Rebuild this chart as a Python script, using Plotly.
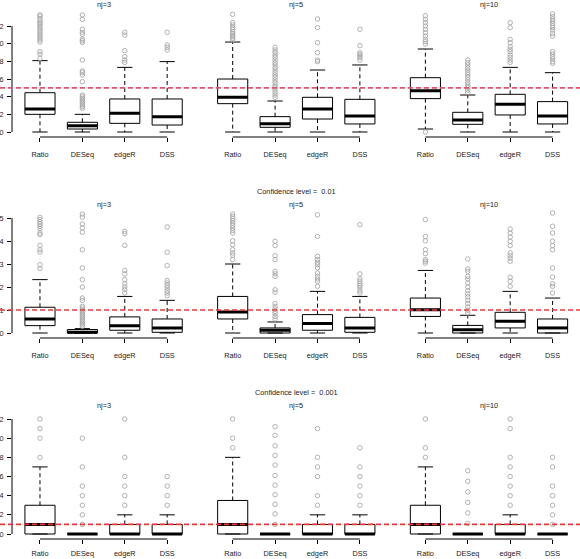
import plotly.graph_objects as go

methods = ["Ratio", "DESeq", "edgeR", "DSS"]
nj_titles = ["nj=3", "nj=5", "nj=10"]
conf_labels = ["0.05", "0.01", "0.001"]
ref_levels = [0.05, 0.01, 0.001]

yticks_05 = [0.00, 0.02, 0.04, 0.06, 0.08, 0.10, 0.12]
yticks_01 = [0.00, 0.01, 0.02, 0.03, 0.04, 0.05]
yticks_001 = [0.000, 0.002, 0.004, 0.006, 0.008, 0.010, 0.012]
yfmt = [".2f", ".2f", ".3f"]

# ---- confidence level 0.05 (per nj, per method) ----
q1_05 = [[0.020, 0.0034, 0.0098, 0.0079], [0.0321, 0.0053, 0.0147, 0.0091], [0.0378, 0.0087, 0.0193, 0.0091]]
med_05 = [[0.026, 0.0072, 0.0211, 0.0174], [0.0393, 0.0094, 0.026, 0.0181], [0.0468, 0.0136, 0.0313, 0.0181]]
q3_05 = [[0.0445, 0.011, 0.0374, 0.0374], [0.060, 0.0174, 0.0393, 0.037], [0.0615, 0.0223, 0.0427, 0.0344]]
lo_05 = [[0, 0, 0, 0], [0, 0, 0, 0], [0.0034, 0, 0, 0]]
hi_05 = [[0.0808, 0.020, 0.0732, 0.0797], [0.1019, 0.0351, 0.0702, 0.0759], [0.094, 0.0419, 0.0732, 0.0672]]
out_05 = [
    [
        [0.1325, 0.1314, 0.1287, 0.1261, 0.1238, 0.1223, 0.120, 0.1178, 0.1155, 0.1133, 0.111, 0.1087, 0.1065, 0.1042, 0.1019, 0.091, 0.0883, 0.0834],
        [0.1325, 0.1276, 0.1163, 0.1129, 0.1106, 0.1053, 0.1034, 0.1015, 0.0815, 0.0691, 0.0672, 0.0646, 0.057, 0.0419, 0.04, 0.0381, 0.0362, 0.0344, 0.0325, 0.0306, 0.0287, 0.0268],
        [0.1129, 0.1098, 0.0921, 0.0853, 0.0815, 0.0789],
        [0.1129, 0.0985, 0.0959, 0.0929],
    ],
    [
        [0.1333, 0.1238, 0.1212, 0.1185, 0.1163, 0.1136, 0.1117, 0.1098, 0.108, 0.1061, 0.1042],
        [0.0959, 0.0929, 0.0902, 0.0872, 0.0846, 0.0815, 0.0785, 0.0759, 0.0729, 0.0702, 0.0672, 0.0646, 0.0619, 0.0589, 0.0562, 0.0532, 0.0506, 0.0476, 0.0449, 0.0419, 0.0393],
        [0.128, 0.1182, 0.1012, 0.0898, 0.0815, 0.0797],
        [0.1163, 0.0978, 0.0898, 0.088, 0.0861, 0.0842, 0.0815],
    ],
    [
        [0.1317, 0.1276, 0.1238, 0.12, 0.1163, 0.1125, 0.1087, 0.1049, 0.1023, 0.0997, 0.0],
        [0.0815, 0.0785, 0.0759, 0.0729, 0.0702, 0.0672, 0.0646, 0.0619, 0.0589, 0.0559, 0.0532, 0.0506, 0.0476, 0.0445],
        [0.1238, 0.1182, 0.1049, 0.1012, 0.0966, 0.0936, 0.091, 0.0872, 0.0846, 0.0815, 0.0789],
        [0.1336, 0.1306, 0.128, 0.1257, 0.1231, 0.1204, 0.1182, 0.1155, 0.1117, 0.1087, 0.091, 0.0883, 0.0853, 0.0827, 0.0797, 0.0778],
    ],
]

# ---- confidence level 0.01 ----
q1_01 = [[0.0032, 0.0, 0.0012, 0.0003], [0.0061, 0.0, 0.0012, 0.0003], [0.0072, 0.0, 0.0022, 0.0]]
med_01 = [[0.0061, 0.0003, 0.0032, 0.0022], [0.0091, 0.0012, 0.0041, 0.0022], [0.0101, 0.0014, 0.0051, 0.0022]]
q3_01 = [[0.0112, 0.0015, 0.007, 0.0061], [0.0159, 0.0022, 0.008, 0.0068], [0.0152, 0.0033, 0.009, 0.0061]]
lo_01 = [[0, 0, 0, 0], [0, 0, 0, 0], [0, 0, 0, 0]]
hi_01 = [[0.0232, 0.0019, 0.0159, 0.0142], [0.030, 0.0048, 0.0181, 0.0159], [0.0272, 0.0077, 0.0181, 0.0152]]
out_01 = [
    [
        [0.0503, 0.0493, 0.0483, 0.0474, 0.0464, 0.0454, 0.0435, 0.0428, 0.0381, 0.0362, 0.0352, 0.0297, 0.028],
        [0.0517, 0.0504, 0.0474, 0.0457, 0.0438, 0.0362, 0.0283, 0.0232, 0.02, 0.0152, 0.0142, 0.0116, 0.0109, 0.0101, 0.0094, 0.0087, 0.008, 0.0072, 0.0065, 0.0058, 0.0051, 0.0043, 0.0036, 0.0029],
        [0.0442, 0.0432, 0.0381, 0.0272, 0.0257, 0.0232, 0.0214, 0.02, 0.0188, 0.0174],
        [0.0461, 0.0351, 0.0293, 0.0228, 0.0217, 0.0206, 0.0196, 0.0184, 0.0174, 0.0162],
    ],
    [
        [0.0517, 0.0507, 0.0497, 0.0488, 0.0478, 0.0468, 0.0457, 0.0446, 0.0435, 0.0401, 0.0384, 0.0362, 0.0348, 0.0338, 0.0319],
        [0.0399, 0.038, 0.0336, 0.0319, 0.0268, 0.0257, 0.0246, 0.0188, 0.0177, 0.0128, 0.0116, 0.0104, 0.0094, 0.0084, 0.0072, 0.0061],
        [0.0514, 0.042, 0.0333, 0.0319, 0.0307, 0.0297, 0.0283, 0.0261, 0.0246, 0.0235, 0.0225, 0.0203],
        [0.0471, 0.0257, 0.0235, 0.0225, 0.0214, 0.0206, 0.0196, 0.0184, 0.0174],
    ],
    [
        [0.0493, 0.042, 0.0401, 0.0362, 0.0345, 0.0319, 0.0312, 0.0304],
        [0.0322, 0.0278, 0.0268, 0.0246, 0.0235, 0.0217, 0.02, 0.0184, 0.017, 0.0157, 0.0142, 0.0128, 0.0113, 0.0099, 0.0087],
        [0.0452, 0.0435, 0.0417, 0.0399, 0.038, 0.0348, 0.0336, 0.0325, 0.0312, 0.0242, 0.0225, 0.0203],
        [0.0522, 0.0464, 0.0435, 0.0399, 0.038, 0.0362, 0.0283, 0.0243, 0.0214, 0.0203, 0.0174],
    ],
]

# ---- confidence level 0.001 ----
q1_001 = [[0, 0, 0, 0], [0, 0, 0, 0], [0, 0, 0, 0]]
med_001 = [[0.001, 0, 0, 0], [0.001, 0, 0, 0], [0.001, 0, 0, 0]]
q3_001 = [[0.003, 0, 0.001, 0.001], [0.0035, 0, 0.001, 0.001], [0.003, 0, 0.001, 0]]
lo_001 = [[0, 0, 0, 0], [0, 0, 0, 0], [0, 0, 0, 0]]
hi_001 = [[0.007, 0, 0.002, 0.002], [0.008, 0, 0.002, 0.002], [0.007, 0, 0.002, 0]]
out_001 = [
    [
        [0.012, 0.011, 0.010, 0.008],
        [0.010, 0.007, 0.005, 0.004, 0.003, 0.002, 0.001],
        [0.012, 0.008, 0.006, 0.005, 0.004, 0.003],
        [0.006, 0.005, 0.004, 0.003],
    ],
    [
        [0.012, 0.010, 0.009],
        [0.0112, 0.0103, 0.0092, 0.0082, 0.0072, 0.0061, 0.0051, 0.0041, 0.0031, 0.0021, 0.001],
        [0.011, 0.008, 0.007, 0.006, 0.004, 0.003],
        [0.009, 0.007, 0.006, 0.005, 0.004, 0.003],
    ],
    [
        [0.012, 0.009, 0.008],
        [0.0066, 0.0055, 0.0044, 0.0033, 0.0022, 0.0011],
        [0.012, 0.011, 0.008, 0.007, 0.006, 0.005, 0.004, 0.003],
        [0.008, 0.007, 0.005, 0.004, 0.003, 0.002, 0.001],
    ],
]

rows = [
    dict(q1=q1_05, med=med_05, q3=q3_05, lo=lo_05, hi=hi_05, out=out_05, ticks=yticks_05),
    dict(q1=q1_01, med=med_01, q3=q3_01, lo=lo_01, hi=hi_01, out=out_01, ticks=yticks_01),
    dict(q1=q1_001, med=med_001, q3=q3_001, lo=lo_001, hi=hi_001, out=out_001, ticks=yticks_001),
]

# ---------------- layout geometry (pixels) ----------------
W, H = 580, 559
unit = 42.4
col_left = [12.0, 204.7, 397.4]
x_lo, x_hi = 0.34, 4.66
row_top = [9.5, 210.0, 412.0]
row_bot = [137.0, 338.0, 539.0]
zero_px = [132.0, 333.0, 534.0]
px_per_unit = [883.0, 2300.0, 9583.0]
nj_title_px = [5.0, 204.3, 405.0]
conf_title_px = [None, 191.7, 392.3]
xlab_standoff = [6, 6, 3]

box_half = 0.355
staple_half = 0.18
FONT = "Liberation Sans, Arial, sans-serif"
fs = 7.3
TXT = "#222222"
ref_colors = ["#DF536B", "#E8383D", "#E8383D"]

fig = go.Figure()
layout = dict(
    template="none",
    width=W, height=H, margin=dict(l=0, r=0, t=0, b=0, autoexpand=False),
    paper_bgcolor="white", plot_bgcolor="rgba(0,0,0,0)", showlegend=False,
    font=dict(family=FONT, size=fs, color=TXT),
)
shapes = []
annotations = []

for r, d in enumerate(rows):
    ymin = (zero_px[r] - row_bot[r]) / px_per_unit[r]
    ymax = (zero_px[r] - row_top[r]) / px_per_unit[r]
    ydom = [1 - row_bot[r] / H, 1 - row_top[r] / H]
    for c in range(3):
        n = r * 3 + c + 1
        sx = "" if n == 1 else str(n)
        xa, ya = "x" + sx, "y" + sx
        left = col_left[c]
        right = left + (x_hi - x_lo) * unit
        xr_hi = x_hi
        if right > W:
            xr_hi = x_lo + (W - left) / unit
            right = W
        layout["xaxis" + sx] = dict(
            domain=[left / W, right / W], range=[x_lo, xr_hi], anchor=ya,
            tickvals=[1, 2, 3, 4], ticktext=methods, ticks="outside", ticklen=4,
            tickwidth=1, tickcolor="black", showline=False, showgrid=False,
            zeroline=False, ticklabelstandoff=xlab_standoff[r], automargin=False,
            tickfont=dict(family=FONT, size=fs, color=TXT), fixedrange=True,
        )
        yax = dict(domain=ydom, range=[ymin, ymax], anchor=xa, showgrid=False,
                   zeroline=False, showline=False, fixedrange=True, automargin=False)
        if c == 0:
            yax.update(tickvals=d["ticks"], tickformat=yfmt[r], ticks="outside",
                       ticklen=4, tickwidth=1, tickcolor="black",
                       ticklabelstandoff=2, tickfont=dict(family=FONT, size=fs, color=TXT))
            shapes.append(dict(type="line", xref=xa + " domain", yref=ya,
                               x0=0, x1=0, y0=d["ticks"][0], y1=d["ticks"][-1],
                               line=dict(color="black", width=1)))
        else:
            yax.update(showticklabels=False, ticks="")
        layout["yaxis" + sx] = yax
        # x axis line from first to last group
        shapes.append(dict(type="line", xref=xa, yref=ya + " domain",
                           x0=1, x1=len(methods), y0=0, y1=0,
                           line=dict(color="black", width=1)))

        bx, by, mx, my, wx, wy, sxs, sys_, ox, oy = [], [], [], [], [], [], [], [], [], []
        for i in range(len(methods)):
            p = i + 1
            q1, md, q3 = d["q1"][c][i], d["med"][c][i], d["q3"][c][i]
            lo, hi = d["lo"][c][i], d["hi"][c][i]
            bx += [p - box_half, p + box_half, p + box_half, p - box_half, p - box_half, None]
            by += [q1, q1, q3, q3, q1, None]
            mx += [p - box_half, p + box_half, None]
            my += [md, md, None]
            wx += [p, p, None, p, p, None]
            wy += [q3, hi, None, q1, lo, None]
            sxs += [p - staple_half, p + staple_half, None, p - staple_half, p + staple_half, None]
            sys_ += [hi, hi, None, lo, lo, None]
            for v in d["out"][c][i]:
                ox.append(p)
                oy.append(v)
        common = dict(xaxis=xa, yaxis=ya, hoverinfo="skip", mode="lines")
        fig.add_trace(go.Scatter(x=wx, y=wy, line=dict(color="black", width=1, dash="4px,3px"), **common))
        fig.add_trace(go.Scatter(x=sxs, y=sys_, line=dict(color="black", width=1), **common))
        fig.add_trace(go.Scatter(x=bx, y=by, line=dict(color="black", width=1), **common))
        fig.add_trace(go.Scatter(x=mx, y=my, line=dict(color="black", width=3), **common))
        fig.add_trace(go.Scatter(x=ox, y=oy, mode="markers", xaxis=xa, yaxis=ya, hoverinfo="skip",
                                 marker=dict(symbol="circle-open", size=4.5, color="#a8a8a8",
                                             line=dict(width=0.9, color="#a8a8a8")),
                                 cliponaxis=False))
        annotations.append(dict(text=nj_titles[c], xref="paper", yref="paper",
                                x=(left + (x_hi - x_lo) * unit / 2) / W,
                                y=1 - nj_title_px[r] / H, xanchor="center", yanchor="middle",
                                showarrow=False, font=dict(family=FONT, size=fs, color=TXT)))
        if c == 1 and conf_title_px[r] is not None:
            annotations.append(dict(text="Confidence level =  " + conf_labels[r], xref="paper", yref="paper",
                                    x=(left + (x_hi - x_lo) * unit / 2) / W,
                                    y=1 - conf_title_px[r] / H, xanchor="center", yanchor="middle",
                                    showarrow=False, font=dict(family=FONT, size=fs, color=TXT)))
    # reference line across the whole row
    shapes.append(dict(type="line", xref="paper", yref="y" + ("" if r == 0 else str(r * 3 + 1)),
                       x0=0, x1=1, y0=ref_levels[r], y1=ref_levels[r], layer="above",
                       line=dict(color=ref_colors[r], width=1.6, dash="5px,3px")))

layout["shapes"] = shapes
layout["annotations"] = annotations
fig.update_layout(**layout)
fig.write_html("out.html", config={"displayModeBar": False})
